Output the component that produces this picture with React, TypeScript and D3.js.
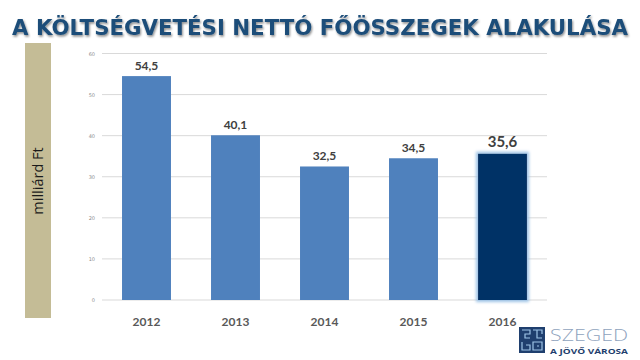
import React from "react";
import * as d3 from "d3";

const years = ["2012", "2013", "2014", "2015", "2016"];
const values = [54.5, 40.1, 32.5, 34.5, 35.6];
const labels = ["54,5", "40,1", "32,5", "34,5", "35,6"];
const yTicks = [0, 10, 20, 30, 40, 50, 60];
const titleText = "A KÖLTSÉGVETÉSI NETTÓ FŐÖSSZEGEK ALAKULÁSA";
const axisTitle = "milliárd Ft";

export default function App() {
  const W = 640, H = 360;
  const x = d3.scaleBand<string>().domain(years).range([102, 547]).paddingInner(0.45).paddingOuter(0.225);
  const y = d3.scaleLinear().domain([0, 60]).range([300, 53.5]);
  const font = "'DejaVu Sans', Verdana, sans-serif";
  return (
    <svg width={W} height={H} style={{ position: "absolute", left: 0, top: 0, background: "#fff" }}>
      <defs>
        <filter id="sh" x="-5%" y="-20%" width="110%" height="160%">
          <feDropShadow dx="1" dy="1.5" stdDeviation="0.8" floodColor="#000" floodOpacity="0.45" />
        </filter>
        <filter id="glow" x="-20%" y="-10%" width="140%" height="120%">
          <feMorphology operator="dilate" radius="2" in="SourceAlpha" result="d" />
          <feGaussianBlur in="d" stdDeviation="1.5" result="b" />
          <feFlood floodColor="#9dc3e6" />
          <feComposite in2="b" operator="in" result="g" />
          <feMerge><feMergeNode in="g" /><feMergeNode in="SourceGraphic" /></feMerge>
        </filter>
      </defs>
      <g transform="translate(320,35) scale(1,1.1)">
        <text x={0} y={0} textAnchor="middle" fontFamily={font} fontWeight="bold" fontSize={20}
          fill="#1f4e79" textLength={616} lengthAdjust="spacingAndGlyphs" filter="url(#sh)">{titleText}</text>
      </g>
      <rect x={25} y={43} width={26} height={275} fill="#c4bc96" />
      <text transform="translate(43,181) rotate(-90)" textAnchor="middle" fontFamily="'Open Sans', sans-serif"
        fontSize={14.5} fill="#1a1a1a">{axisTitle}</text>
      {yTicks.map(t => (
        <g key={t}>
          <line x1={102} x2={547} y1={y(t)} y2={y(t)} stroke="#d9d9d9" strokeWidth={1} />
          <text x={95} y={y(t) + 2} textAnchor="end" fontFamily={font} fontSize={5} fill="#8c8c8c">{t}</text>
        </g>
      ))}
      {years.map((yr, i) => {
        const last = i === years.length - 1;
        const bx = x(yr)!;
        return (
          <g key={yr}>
            <rect x={bx} y={y(values[i])} width={x.bandwidth()} height={y(0) - y(values[i])}
              fill={last ? "#003366" : "#4f81bd"} filter={last ? "url(#glow)" : undefined} />
            <text x={bx + x.bandwidth() / 2} y={y(values[i]) - (last ? 7 : 6)} textAnchor="middle"
              fontFamily="Lato, 'Open Sans', sans-serif" fontWeight="bold" fontSize={last ? 15 : 12} fill="#404040">{labels[i]}</text>
            <text x={bx + x.bandwidth() / 2} y={326} textAnchor="middle"
              fontFamily="Lato, 'Open Sans', sans-serif" fontWeight="bold" fontSize={12} fill="#595959">{yr}</text>
          </g>
        );
      })}
      <g>
        <rect x={519} y={327} width={26} height={26} fill="#1f3f6e" />
        <g stroke="#9dc3e6" strokeWidth={1.2} fill="none">
          <path d="M522 330 h8 v4 h-5 v4 h5" />
          <path d="M533 330 h9 v4 M537 330 v8 h5" />
          <path d="M522 342 v8 h8 v-5 h-4" />
          <path d="M533 342 h9 v8 h-9 z M537 346 h2" />
        </g>
        <text x={550} y={341} fontFamily="'Open Sans', sans-serif" fontWeight="300" fontSize={17}
          fill="#8fa3bd" textLength={78} lengthAdjust="spacingAndGlyphs">SZEGED</text>
        <text x={550} y={354} fontFamily="'Open Sans', sans-serif" fontWeight="bold" fontSize={7.5}
          fill="#1f3f6e" textLength={78} lengthAdjust="spacingAndGlyphs">A JÖVŐ VÁROSA</text>
      </g>
    </svg>
  );
}
